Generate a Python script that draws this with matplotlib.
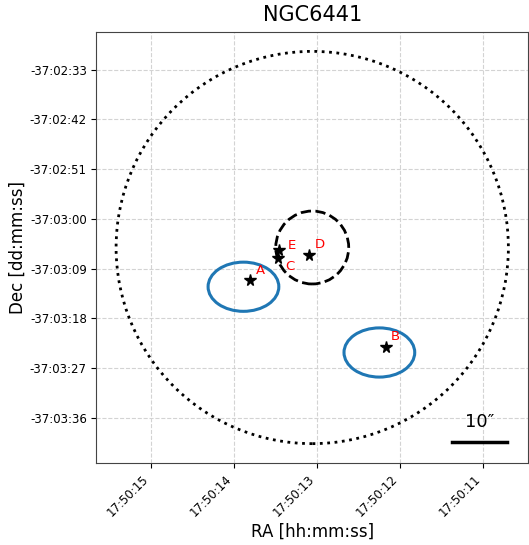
import numpy as np
import matplotlib
matplotlib.use("Agg")
import matplotlib.pyplot as plt
from matplotlib.patches import Circle, Ellipse

# centro do aglomerado (RA 17:50:ss, Dec -37:03:ss)
ra_h, ra_m = 17, 50
dec_d, dec_m = -37, 3
center_ra_s = 13.06
center_dec_s = 5.2

# raios (arcsec)
r_half = 35.5
r_core = 6.6

# estrelas
names = ['A', 'B', 'C', 'D', 'E']
star_ra_s = [13.81, 12.17, 13.47, 13.10, 13.46]
star_dec_s = [11.1, 23.2, 7.1, 6.5, 5.6]
label_off = [(6, 6), (5, 7), (7, -12), (6, 7), (9, 1)]  # pixels

# elipses (campos) em arcsec
ell_ra_s = [13.89, 12.25]
ell_dec_s = [12.3, 24.2]
ell_w = 12.8
ell_h = 8.9

# ticks
ra_ticks_s = [15, 14, 13, 12, 11]
dec_ticks = [(2, 33), (2, 42), (2, 51), (3, 0), (3, 9), (3, 18), (3, 27), (3, 36)]


def ra_deg(s):
    return (ra_h + ra_m / 60 + s / 3600) * 15


def dec_deg(s, m=dec_m):
    return -(abs(dec_d) + m / 60 + s / 3600)


ra0 = ra_deg(center_ra_s)
dec0 = dec_deg(center_dec_s)

fig = plt.figure(figsize=(5.29, 5.45), dpi=100)
ax = fig.add_axes([0.1824, 0.1495, 0.8157, 0.7927])

ax.add_patch(Circle((ra0, dec0), r_half / 3600, fill=False, ls=':', lw=2, color='black'))
ax.add_patch(Circle((ra0, dec0), r_core / 3600, fill=False, ls='--', lw=2, color='black'))

for rs, ds in zip(ell_ra_s, ell_dec_s):
    ax.add_patch(Ellipse((ra_deg(rs), dec_deg(ds)), ell_w / 3600, ell_h / 3600,
                         fill=False, lw=2.2, color='tab:blue'))

for n, rs, ds, off in zip(names, star_ra_s, star_dec_s, label_off):
    x, y = ra_deg(rs), dec_deg(ds)
    ax.plot(x, y, marker='*', color='black', ms=8.5, ls='none')
    ax.annotate(n, (x, y), xytext=off, textcoords='offset pixels',
                color='red', fontsize=9.5, ha='left', va='baseline')

lim = 1.1 * r_half / 3600
ax.set_xlim(ra0 + lim, ra0 - lim)
ax.set_ylim(dec0 - lim, dec0 + lim)
ax.set_aspect('equal')

ax.set_xticks([ra_deg(s) for s in ra_ticks_s])
ax.set_xticklabels([f"{ra_h}:{ra_m}:{s:02d}" for s in ra_ticks_s], rotation=45, ha='right', fontsize=8.5)
ax.set_yticks([dec_deg(s, m) for m, s in dec_ticks])
ax.set_yticklabels([f"{dec_d}:{m:02d}:{s:02d}" for m, s in dec_ticks], fontsize=8.5)

ax.grid(True, linestyle='--', color='lightgray', lw=0.8)
ax.set_axisbelow(True)
for sp in ax.spines.values():
    sp.set_color('#444444')

# barra de escala 10"
bar = 10 / (2 * 1.1 * r_half)
ax.plot([0.951 - bar, 0.951], [0.05, 0.05], color='black', lw=2.5, transform=ax.transAxes)
ax.text(0.951 - bar / 2, 0.075, '10\u2033', fontsize=13, ha='center', va='bottom', transform=ax.transAxes)

ax.set_title('NGC6441', fontsize=15, pad=8)
ax.set_xlabel('RA [hh:mm:ss]', fontsize=12, labelpad=2)
ax.set_ylabel('Dec [dd:mm:ss]', fontsize=12, labelpad=2)

fig.savefig('out.png', dpi=100)
